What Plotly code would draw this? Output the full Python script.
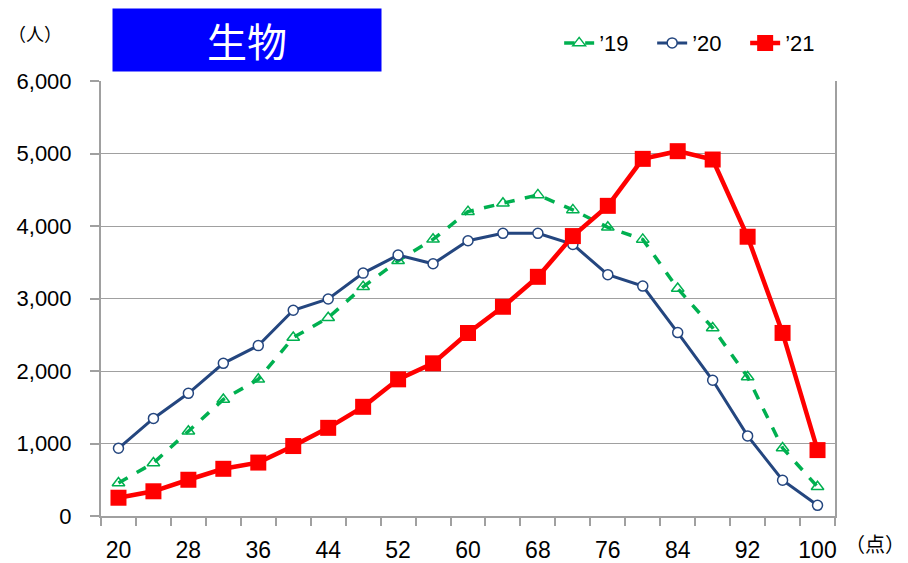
import plotly.graph_objects as go

# Punkte (x-Achse) und Anzahl (y-Achse)
scores = [20, 24, 28, 32, 36, 40, 44, 48, 52, 56, 60, 64, 68, 72, 76, 80, 84, 88, 92, 96, 100]
tick_labels = [20, 28, 36, 44, 52, 60, 68, 76, 84, 92, 100]

y19 = [455, 731, 1170, 1607, 1885, 2461, 2735, 3161, 3520, 3816, 4198, 4314, 4429,
       4222, 3982, 3815, 3137, 2594, 1917, 937, 403]
y20 = [934, 1346, 1692, 2106, 2350, 2838, 2993, 3350, 3599, 3479, 3797, 3899, 3899,
       3746, 3329, 3171, 2530, 1872, 1105, 493, 147]
y21 = [252, 341, 500, 651, 737, 965, 1216, 1506, 1885, 2106, 2524, 2886, 3299,
       3861, 4278, 4926, 5032, 4917, 3852, 2525, 909]

GRAY = "#a0a0a0"
FONT = "Liberation Sans, Arial, sans-serif"
CJK = "Noto Sans CJK JP, sans-serif"

fig = go.Figure()

fig.add_trace(go.Scatter(
    x=scores, y=y19, name="’19", mode="lines+markers",
    line=dict(color="#00b050", width=3.5, dash="dash"),
    marker=dict(symbol="triangle-up-open", size=11, color="#00b050", line=dict(width=1.5)),
))
fig.add_trace(go.Scatter(
    x=scores, y=y20, name="’20", mode="lines+markers",
    line=dict(color="#24467f", width=3),
    marker=dict(symbol="circle", size=10, color="white", line=dict(color="#24467f", width=1.5)),
))
fig.add_trace(go.Scatter(
    x=scores, y=y21, name="’21", mode="lines+markers",
    line=dict(color="#ff0000", width=4.5),
    marker=dict(symbol="square", size=16, color="#ff0000"),
))

# die Seite hat 8px Rand (body margin), daher die Ränder etwas verschoben
fig.update_layout(
    width=908, height=563,
    margin=dict(l=93, r=81, t=73, b=55),
    plot_bgcolor="white", paper_bgcolor="white",
    font=dict(family=FONT, color="black"),
    showlegend=True,
    legend=dict(orientation="h", xref="container", yref="container",
                x=0.607, y=0.975, xanchor="left", yanchor="top",
                font=dict(size=22, family=FONT), bgcolor="rgba(0,0,0,0)",
                itemwidth=30, entrywidth=48, tracegroupgap=0),
    xaxis=dict(
        range=[18, 102], tickmode="array", tickvals=tick_labels,
        ticktext=[str(t) for t in tick_labels], ticks="",
        tickfont=dict(size=23, family=FONT), ticklabelstandoff=12,
        showgrid=False, zeroline=False, automargin=False,
        showline=True, linecolor=GRAY, linewidth=2,
        minor=dict(tick0=18, dtick=4, ticks="outside", ticklen=8,
                   tickcolor=GRAY, tickwidth=1.5, showgrid=False),
    ),
    yaxis=dict(
        range=[0, 6000], dtick=1000, tickformat=",d",
        tickfont=dict(size=22, family=FONT),
        ticks="outside", ticklen=9, tickcolor=GRAY, tickwidth=1.5,
        ticklabelstandoff=14, automargin=False,
        showgrid=True, gridcolor=GRAY, gridwidth=1.3, zeroline=False,
        showline=True, linecolor=GRAY, linewidth=2, mirror=True,
    ),
)

# Titelbox
fig.add_annotation(
    text="生物", xref="paper", yref="paper", x=0.199, y=1.094,
    xanchor="center", yanchor="middle",
    showarrow=False, bgcolor="#0000ff", width=266, height=60,
    font=dict(size=40, color="white", family=CJK),
)
fig.add_annotation(
    text="（人）", xref="paper", yref="paper", x=-0.0895, y=1.11,
    xanchor="center", yanchor="middle",
    showarrow=False, font=dict(size=18, family=CJK),
)
fig.add_annotation(
    text="（点）", xref="paper", yref="paper", x=1.054, y=-0.064,
    xanchor="center", yanchor="middle",
    showarrow=False, font=dict(size=20, family=CJK),
)

fig.write_html("out.html")
